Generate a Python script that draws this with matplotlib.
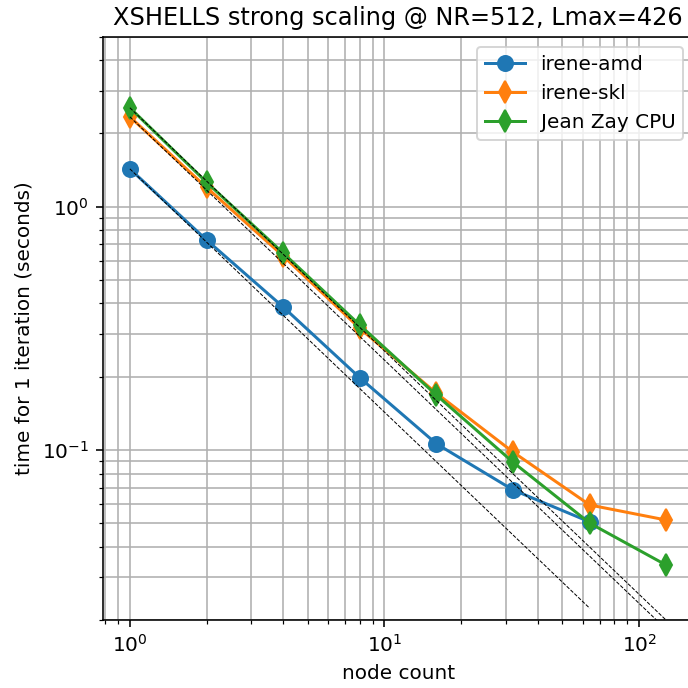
import matplotlib
matplotlib.use("Agg")
import matplotlib.pyplot as plt

# node counts
nodes_amd = [1, 2, 4, 8, 16, 32, 64]
nodes_cpu = [1, 2, 4, 8, 16, 32, 64, 128]

# time per iteration (seconds)
t_irene_amd = [1.43, 0.73, 0.387, 0.198, 0.106, 0.0685, 0.0506]
t_irene_skl = [2.34, 1.20, 0.627, 0.316, 0.171, 0.098, 0.0594, 0.0515]
t_jeanzay = [2.55, 1.26, 0.645, 0.326, 0.168, 0.089, 0.050, 0.0336]

series = [
    ("irene-amd", nodes_amd, t_irene_amd, "o"),
    ("irene-skl", nodes_cpu, t_irene_skl, "d"),
    ("Jean Zay CPU", nodes_cpu, t_jeanzay, "d"),
]

DPI = 144


def main():
    fig = plt.figure(figsize=(688 / DPI, 688 / DPI), dpi=DPI)
    ax = fig.add_axes([0.1497, 0.0988, 0.858, 0.848])

    for name, n, t, m in series:
        ax.loglog(n, t, marker=m, markersize=7.5, label=name)
    # ideal scaling from the first point of each series
    for name, n, t, m in series:
        ax.loglog(n, [t[0] / k for k in n], 'k--', linewidth=0.5)

    ax.set_xlim(1 / 1.275, 128 * 1.275)
    ax.set_ylim(0.02, 5)
    ax.grid(True, which='both')
    ax.set_xlabel("node count")
    ax.set_ylabel("time for 1 iteration (seconds)")
    ax.set_title("XSHELLS strong scaling @ NR=512, Lmax=426")
    ax.legend(loc='upper right')

    fig.savefig("out.png", dpi=DPI)


if __name__ == "__main__":
    main()
